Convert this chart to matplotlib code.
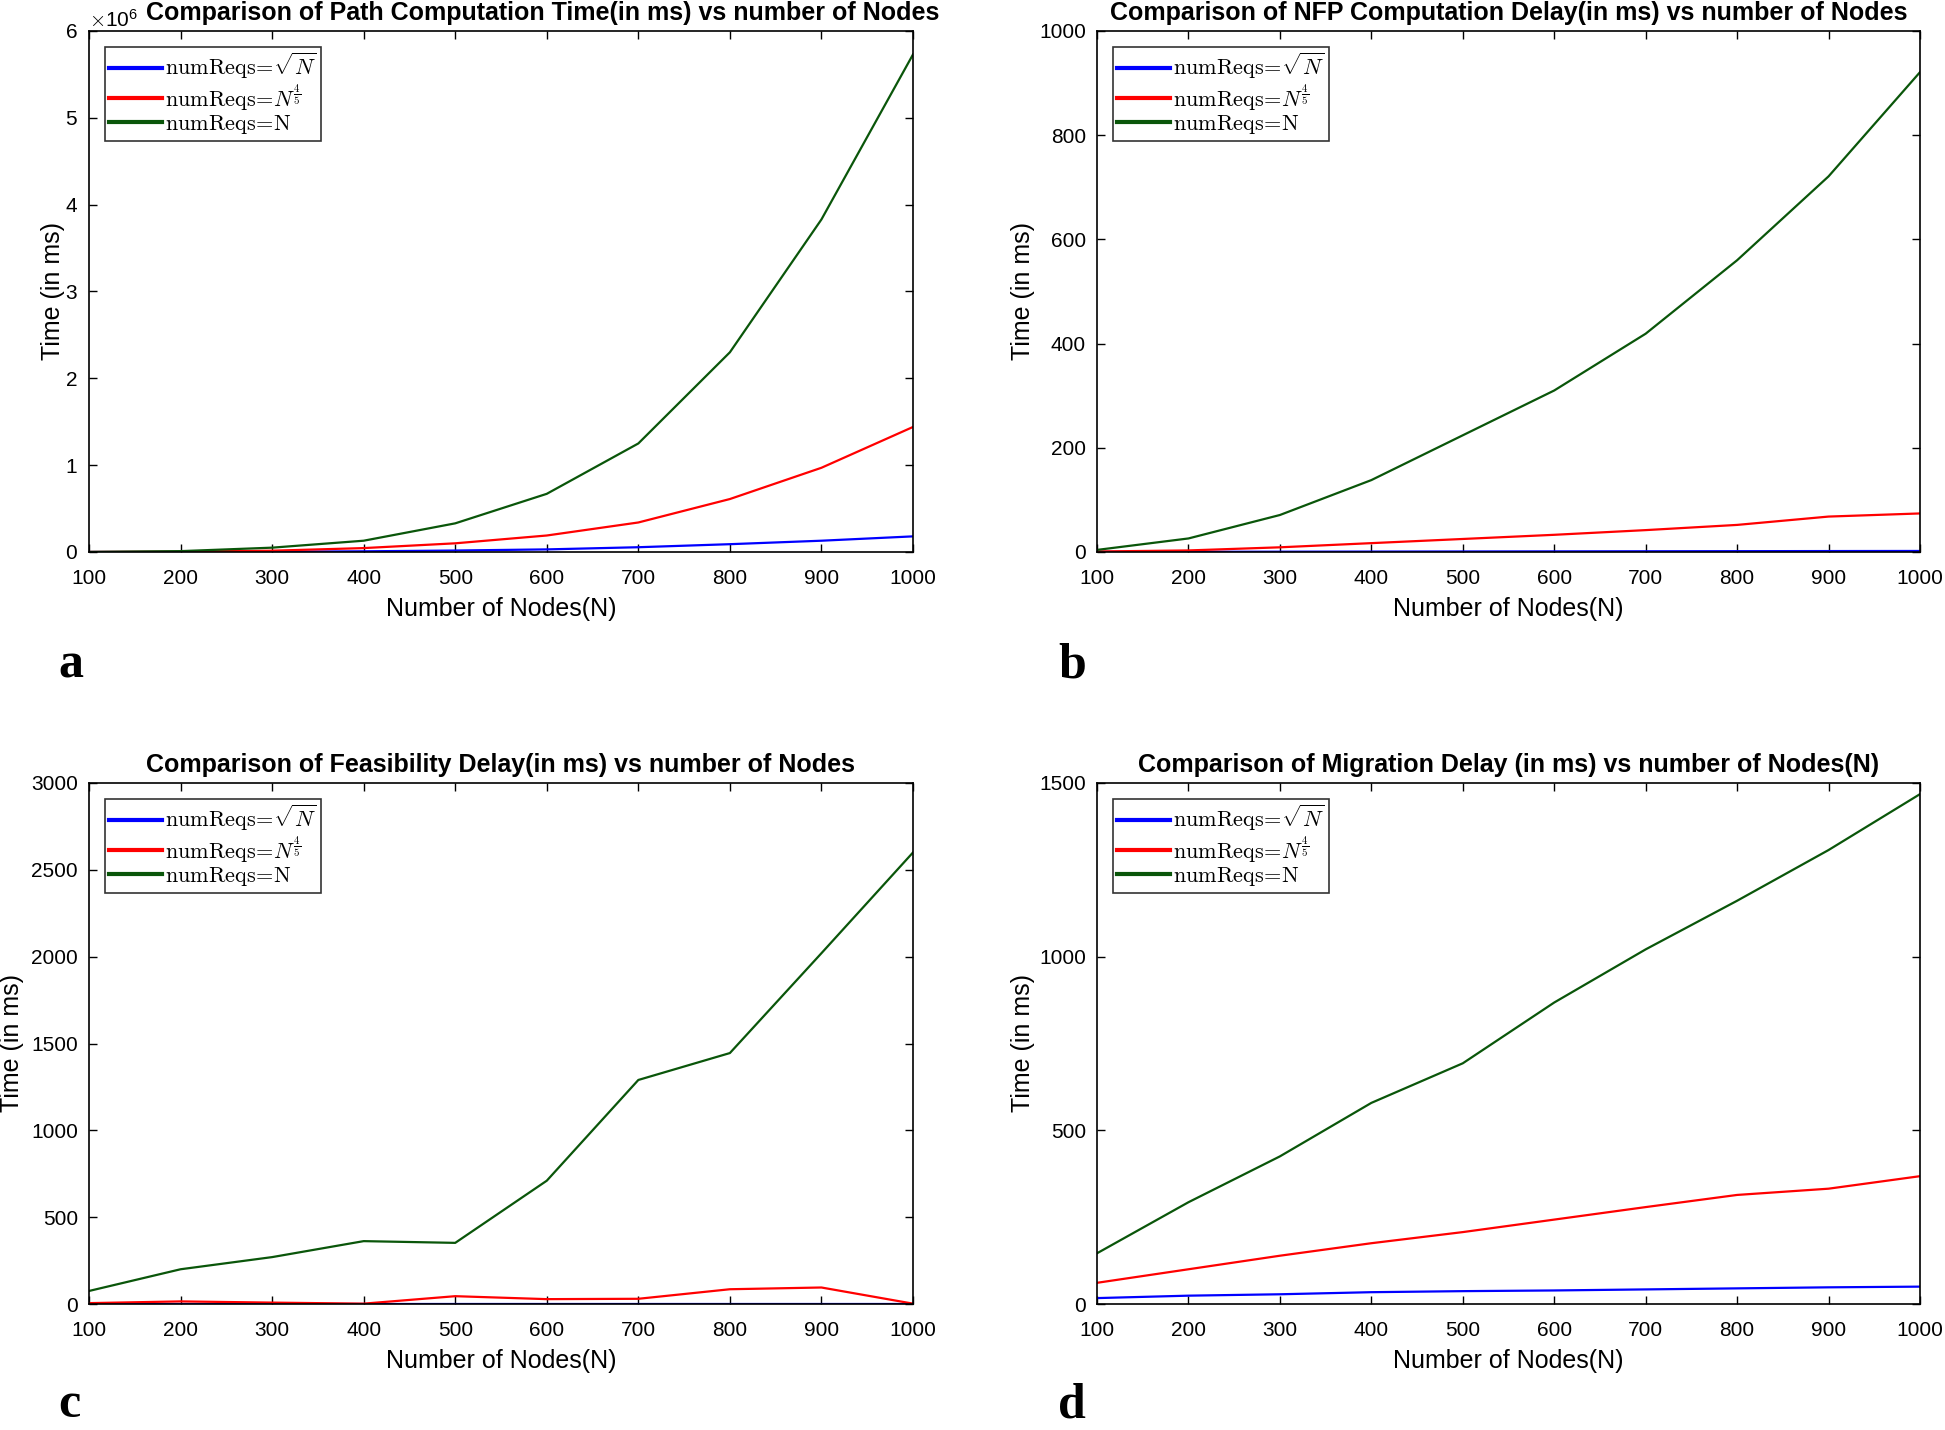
import matplotlib
matplotlib.use("Agg")
import matplotlib.pyplot as plt
from matplotlib.ticker import ScalarFormatter

plt.rcParams['font.family'] = ['Liberation Sans', 'DejaVu Sans']
plt.rcParams['mathtext.fontset'] = 'cm'

nodes = [100, 200, 300, 400, 500, 600, 700, 800, 900, 1000]

# (a) Path computation time (ms)
path_sqrt = [100, 1000, 3000, 8000, 17000, 30000, 55000, 90000, 130000, 180000]
path_45 = [500, 4000, 15000, 45000, 100000, 190000, 340000, 610000, 970000, 1440000]
path_n = [1000, 10000, 50000, 130000, 330000, 670000, 1250000, 2300000, 3830000, 5730000]

# (b) NFP computation delay (ms)
nfp_sqrt = [0.2, 0.4, 0.6, 0.8, 1.0, 1.2, 1.4, 1.6, 1.8, 2.0]
nfp_45 = [1, 3, 9, 17, 25, 33, 42, 52, 68, 74]
nfp_n = [4, 26, 71, 138, 224, 310, 419, 560, 721, 921]

# (c) Feasibility delay (ms)
feas_sqrt = [1, 1, 1, 1, 1, 1, 1, 1, 1, 1]
feas_45 = [5, 15, 8, 2, 45, 28, 30, 85, 95, 2]
feas_n = [75, 200, 270, 362, 352, 710, 1290, 1445, 2020, 2600]

# (d) Migration delay (ms)
mig_sqrt = [17, 24, 28, 34, 37, 39, 42, 45, 48, 50]
mig_45 = [61, 100, 139, 175, 207, 243, 279, 314, 332, 368]
mig_n = [146, 293, 425, 579, 693, 868, 1021, 1161, 1307, 1468]

titles = [
    "Comparison of Path Computation Time(in ms) vs number of Nodes",
    "Comparison of NFP Computation Delay(in ms) vs number of Nodes",
    "Comparison of Feasibility Delay(in ms) vs number of Nodes",
    "Comparison of Migration Delay (in ms) vs number of Nodes(N)",
]
series = [
    (path_sqrt, path_45, path_n),
    (nfp_sqrt, nfp_45, nfp_n),
    (feas_sqrt, feas_45, feas_n),
    (mig_sqrt, mig_45, mig_n),
]
ylims = [(0, 6e6), (0, 1000), (0, 3000), (0, 1500)]
yticks = [
    [0, 1e6, 2e6, 3e6, 4e6, 5e6, 6e6],
    [0, 200, 400, 600, 800, 1000],
    [0, 500, 1000, 1500, 2000, 2500, 3000],
    [0, 500, 1000, 1500],
]
panel_letters = ["a", "b", "c", "d"]
legend_labels = [r"$\mathrm{numReqs}\!=\!\sqrt{N}$",
                 r"$\mathrm{numReqs}\!=\!N^{\frac{4}{5}}$",
                 r"$\mathrm{numReqs}\!=\!\mathrm{N}$"]
colors = ["#0000ff", "#ff0000", "#0a560a"]

W, H = 1945, 1430
fig = plt.figure(figsize=(W / 100, H / 100), dpi=100)

boxes = [
    (89, 31, 913, 552),
    (1097, 31, 1920, 552),
    (89, 783, 913, 1304),
    (1097, 783, 1920, 1304),
]
ylabelpads = [0, 3, 5, 3]
letter_pos = [(58, 678), (1058, 678), (58, 1417), (1058, 1417)]

for i, (x0, y0, x1, y1) in enumerate(boxes):
    ax = fig.add_axes([x0 / W, 1 - y1 / H, (x1 - x0) / W, (y1 - y0) / H])
    for vals, c, lab in zip(series[i], colors, legend_labels):
        ax.plot(nodes, vals, color=c, lw=1.6, label=lab)
    ax.set_xlim(100, 1000)
    ax.set_ylim(*ylims[i])
    ax.set_xticks(nodes)
    ax.set_yticks(yticks[i])
    if i == 0:
        fmt = ScalarFormatter(useMathText=True)
        fmt.set_powerlimits((0, 0))
        ax.yaxis.set_major_formatter(fmt)
        ax.yaxis.get_offset_text().set_fontsize(15)
    ax.tick_params(axis="x", direction="in", length=6, width=1.0, top=True,
                   labelsize=15, pad=12)
    ax.tick_params(axis="y", direction="in", length=6, width=1.0, right=True,
                   labelsize=15, pad=8)
    for s in ax.spines.values():
        s.set_linewidth(1.2)
    tx = 0.551 if i == 0 else 0.5
    ax.set_title(titles[i], fontsize=18, fontweight="bold", x=tx, pad=8)
    ax.set_xlabel("Number of Nodes(N)", fontsize=18, labelpad=7)
    ax.set_ylabel("Time (in ms)", fontsize=18, labelpad=ylabelpads[i])
    leg = ax.legend(loc="upper left", fontsize=16, frameon=True, fancybox=False,
                    edgecolor="black", handlelength=2.4, handletextpad=0.1,
                    labelspacing=0.02, borderpad=0.2, borderaxespad=0.7)
    leg.get_frame().set_linewidth(1.2)
    for lh in leg.get_lines():
        lh.set_linewidth(3)
    lx, ly = letter_pos[i]
    fig.text(lx / W, 1 - ly / H, panel_letters[i], fontsize=36, fontweight="bold",
             family=["Liberation Serif", "DejaVu Serif"], ha="left", va="baseline")

fig.savefig("out.png", dpi=100)
